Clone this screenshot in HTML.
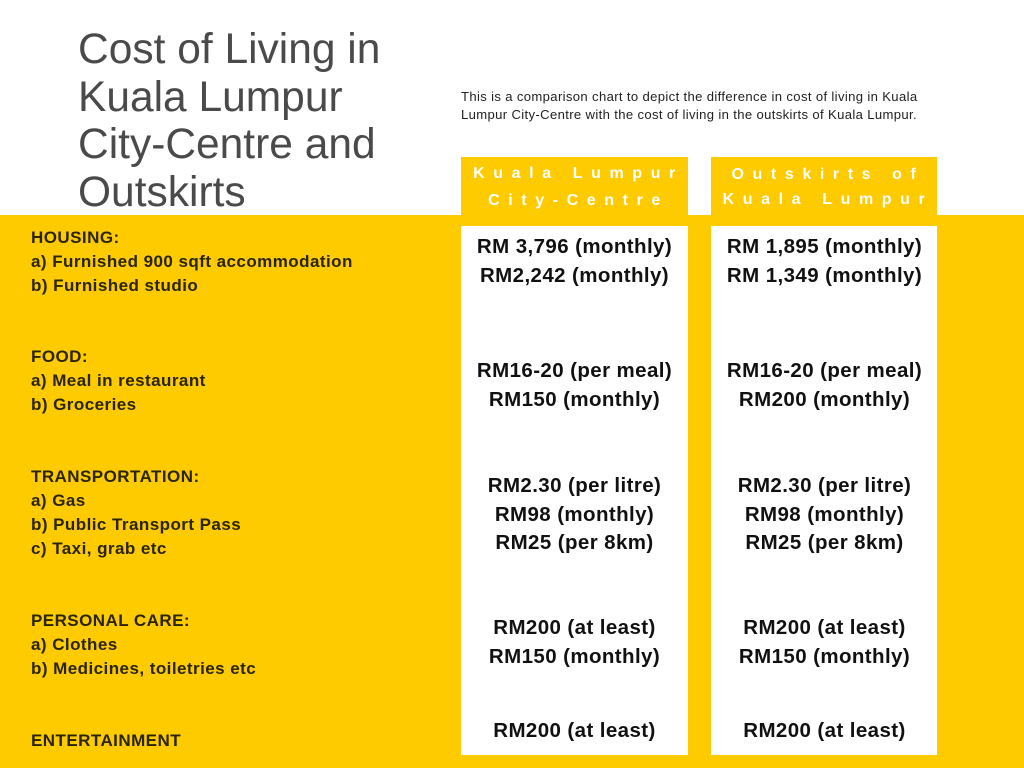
<!DOCTYPE html>
<html><head><meta charset="utf-8"><style>
body{margin:0;width:1024px;height:768px;background:#fff;position:relative;overflow:hidden;font-family:"Liberation Sans",sans-serif}
.a{position:absolute}
.t{left:78px;top:26px;font-size:42.5px;line-height:47.5px;color:#4a4a4a;letter-spacing:0px}
.d{left:461px;top:88px;font-size:13.1px;line-height:18px;color:#222;white-space:nowrap;letter-spacing:0.35px}
.band{left:0;top:215px;width:1024px;height:553px;background:#fecb00}
.hd{top:157px;height:58px;background:#fecb00;color:#fff;font-weight:bold;font-size:16px;letter-spacing:8.6px;text-align:center;line-height:27px;padding-top:3px;padding-left:8px;box-sizing:border-box;white-space:nowrap}
.bx{top:226px;height:529px;background:#fff}
.lab{left:31px;font-size:17px;line-height:24px;font-weight:bold;color:#2a2400;letter-spacing:0.45px;white-space:nowrap}
.v{font-size:20.5px;line-height:28.5px;font-weight:bold;color:#111;text-align:center;width:227px;letter-spacing:0.4px;white-space:nowrap}
</style></head><body>
<div class="a t">Cost of Living in<br>Kuala Lumpur<br>City-Centre and<br>Outskirts</div>
<div class="a d">This is a comparison chart to depict the difference in cost of living in Kuala<br>Lumpur City-Centre with the cost of living in the outskirts of Kuala Lumpur.</div>
<div class="a band"></div>
<div class="a hd" style="left:461px;width:227px">Kuala Lumpur<br>City-Centre</div>
<div class="a hd" style="left:711px;width:226px;line-height:25px;padding-top:5px">Outskirts of<br>Kuala Lumpur</div>
<div class="a bx" style="left:461px;width:227px"></div>
<div class="a bx" style="left:711px;width:226px"></div>
<div class="a lab" style="top:226px">HOUSING:<br>a) Furnished 900 sqft accommodation<br>b) Furnished studio</div>
<div class="a lab" style="top:345px">FOOD:<br>a) Meal in restaurant<br>b) Groceries</div>
<div class="a lab" style="top:465px">TRANSPORTATION:<br>a) Gas<br>b) Public Transport Pass<br>c) Taxi, grab etc</div>
<div class="a lab" style="top:609px">PERSONAL CARE:<br>a) Clothes<br>b) Medicines, toiletries etc</div>
<div class="a lab" style="top:729px">ENTERTAINMENT</div>
<div class="a v" style="left:461px;top:233px">RM 3,796 (monthly)<br>RM2,242 (monthly)</div>
<div class="a v" style="left:711px;top:233px">RM 1,895 (monthly)<br>RM 1,349 (monthly)</div>
<div class="a v" style="left:461px;top:357px">RM16-20 (per meal)<br>RM150 (monthly)</div>
<div class="a v" style="left:711px;top:357px">RM16-20 (per meal)<br>RM200 (monthly)</div>
<div class="a v" style="left:461px;top:472px">RM2.30 (per litre)<br>RM98 (monthly)<br>RM25 (per 8km)</div>
<div class="a v" style="left:711px;top:472px">RM2.30 (per litre)<br>RM98 (monthly)<br>RM25 (per 8km)</div>
<div class="a v" style="left:461px;top:614px">RM200 (at least)<br>RM150 (monthly)</div>
<div class="a v" style="left:711px;top:614px">RM200 (at least)<br>RM150 (monthly)</div>
<div class="a v" style="left:461px;top:717px">RM200 (at least)</div>
<div class="a v" style="left:711px;top:717px">RM200 (at least)</div>
</body></html>
